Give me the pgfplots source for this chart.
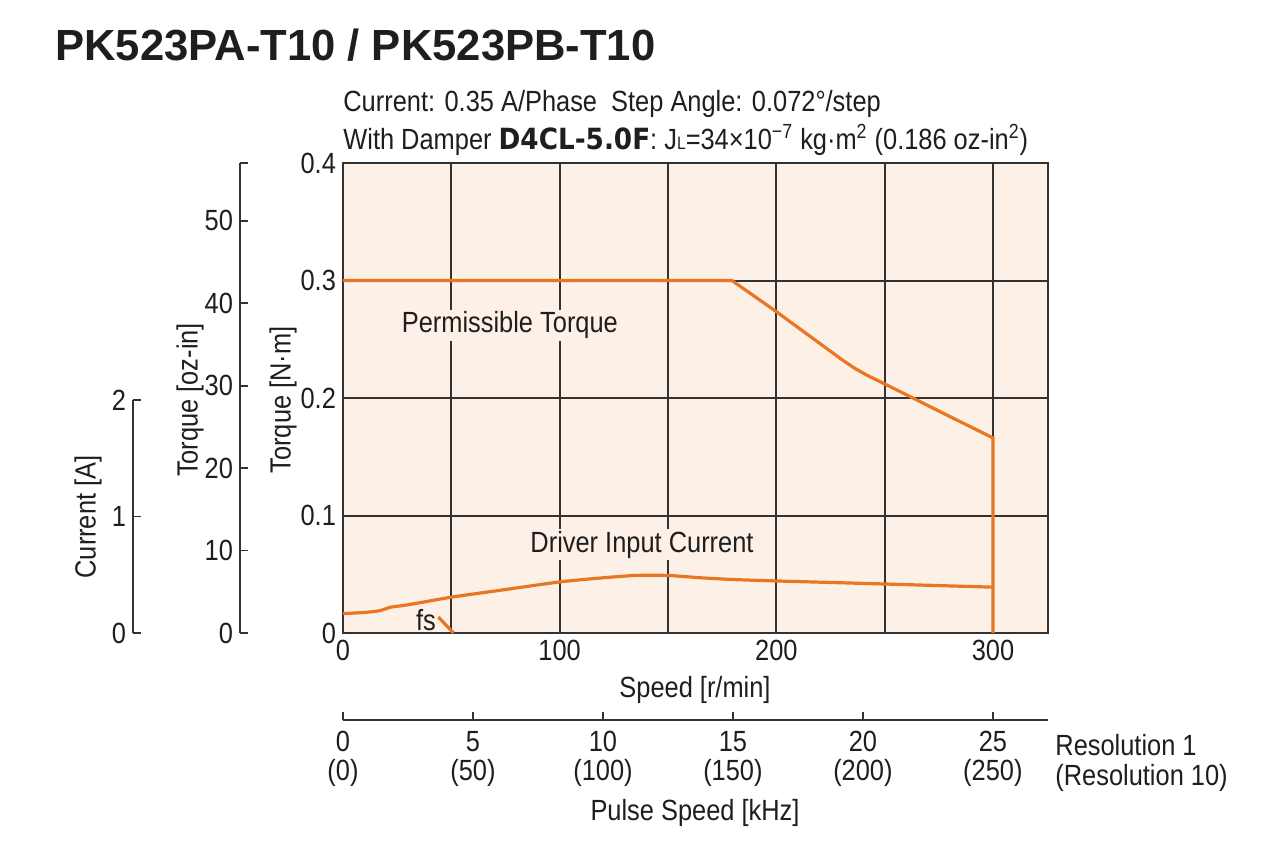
\documentclass[border=0pt]{standalone}
\usepackage{fontspec}
\setmainfont{Liberation Sans}[FakeStretch=0.87]
\newfontfamily\titlefont{Liberation Sans}
\newfontfamily\dvfont{DejaVu Sans}[FakeStretch=0.9]
\usepackage{pgfplots}
\pgfplotsset{compat=1.18}
\definecolor{bgpeach}{RGB}{253,241,231}
\definecolor{curve}{RGB}{234,118,36}
\definecolor{gridc}{RGB}{50,50,50}
\definecolor{txt}{RGB}{30,30,30}
\newcommand{\lbl}{\fontsize{14.6}{14.5}\selectfont}
\begin{document}
\begin{tikzpicture}[x=1pt,y=1pt]
\path[use as bounding box] (0pt,0pt) rectangle (640pt,426.5pt);
\pgfplotsset{every axis/.append style={
  scale only axis,
  font=\lbl, text=txt,
  /pgf/number format/assume math mode=true,
  tick label style={font=\lbl, text=txt},
  axis line style={gridc, line width=1pt},
  every tick/.style={gridc, line width=0.9pt}}}
% ---------- main axis ----------
\begin{axis}[at={(171.5pt,110pt)}, anchor=south west, width=352.5pt, height=235pt,
  xmin=0, xmax=325.38, ymin=0, ymax=0.4,
  axis background/.style={fill=bgpeach},
  xtick={0,50,...,300}, xticklabels={0,,100,,200,,300},
  ytick={0,0.1,0.2,0.3,0.4}, yticklabels={0,0.1,0.2,0.3,0.4},
  grid=major, major grid style={gridc, line width=1pt},
  major tick length=0pt, clip=false]
\addplot[curve, line width=1.6pt] coordinates {
 (0,0.300) (179.5,0.300) (200,0.2735) (220,0.2465) (230,0.2330) (236,0.2255)
 (242,0.2192) (250,0.2120) (263,0.2000) (280,0.1843) (300,0.166) (300,0)};
\addplot[curve, line width=1.6pt, smooth, tension=0.3] coordinates {
 (0,0.0165) (10,0.0175) (17,0.019) (22,0.022) (30,0.024) (50,0.0305)
 (75,0.037) (100,0.0435) (120,0.047) (135,0.049) (150,0.049) (165,0.047)
 (180,0.0455) (200,0.0443) (250,0.0417) (300,0.039)};
\addplot[curve, line width=1.6pt] coordinates {(44,0.0136) (51,0)};
\node[fill=bgpeach, inner sep=1pt, text=txt] at (axis cs:77,0.262) {Permissible Torque};
\node[fill=bgpeach, inner sep=1pt, text=txt] at (axis cs:138,0.075) {Driver Input Current};
\node[text=txt, inner sep=0pt] at (axis cs:38.3,0.011) {fs};
\end{axis}
% ---------- oz-in axis ----------
\begin{axis}[at={(120pt,110pt)}, anchor=south west, width=1pt, height=235pt,
  xmin=0, xmax=1, ymin=0, ymax=57.0,
  axis x line=none, axis y line=left, y axis line style={-},
  ytick={0,10,20,30,40,50,57.0}, yticklabels={0,10,20,30,40,50,},
  ytick align=inside, major tick length=4pt]
\end{axis}
% ---------- current axis ----------
\begin{axis}[at={(66.5pt,110pt)}, anchor=south west, width=1pt, height=116.5pt,
  xmin=0, xmax=1, ymin=0, ymax=2,
  axis x line=none, axis y line=left, y axis line style={-},
  ytick={0,1,2}, yticklabels={0,1,2},
  ytick align=inside, major tick length=4pt]
\end{axis}
% ---------- pulse speed axis ----------
\begin{axis}[at={(171.5pt,66.5pt)}, anchor=south west, width=352.5pt, height=1pt,
  xmin=0, xmax=27.12, ymin=0, ymax=1,
  axis y line=none, axis x line=bottom, x axis line style={-},
  xtick={0,5,...,25},
  xticklabels={{0\\(0)},{5\\(50)},{10\\(100)},{15\\(150)},{20\\(200)},{25\\(250)}},
  xticklabel style={align=center, yshift=-2pt},
  xtick align=inside, major tick length=4pt]
\end{axis}
% ---------- texts ----------
\begin{scope}[every node/.style={text=txt, font=\lbl}]
\node[anchor=west, inner sep=0pt] at (27.5pt,404pt) {\titlefont\fontsize{21.8}{24}\selectfont\bfseries PK523PA-T10 / PK523PB-T10};
\node[anchor=west, inner sep=0pt] at (171.5pt,374.5pt) {Current: 0.35 A/Phase\ \ Step Angle: 0.072°/step};
\node[anchor=west, inner sep=0pt] at (171.5pt,356.5pt) {With Damper {\dvfont\bfseries D4CL-5.0F}: J{\fontsize{9}{9}\selectfont L}=34×10\textsuperscript{−7} kg·m\textsuperscript{2} (0.186 oz-in\textsuperscript{2})};
\node at (347.5pt,81.5pt) {Speed [r/min]};
\node at (347.5pt,20pt) {Pulse Speed [kHz]};
\node[anchor=west, inner sep=0pt] at (527.5pt,54pt) {Resolution 1};
\node[anchor=west, inner sep=0pt] at (527.5pt,37.5pt) {(Resolution 10)};
\node[rotate=90] at (141.5pt,226.5pt) {Torque [N·m]};
\node[rotate=90] at (95pt,226.5pt) {Torque [oz-in]};
\node[rotate=90] at (44pt,168pt) {Current [A]};
\end{scope}
\end{tikzpicture}
\end{document}
